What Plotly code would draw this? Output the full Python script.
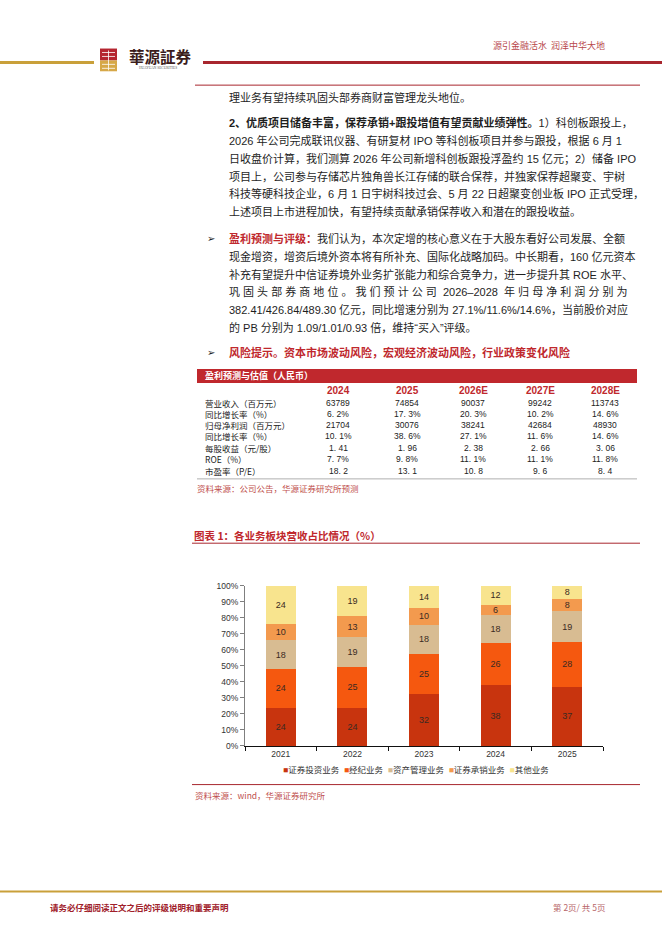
import plotly.graph_objects as go

W, H = 662, 936

# ---------------- data ----------------
years = ["2021", "2022", "2023", "2024", "2025"]
seg_names = ["证券投资业务", "经纪业务", "资产管理业务", "证券承销业务", "其他业务"]
sec_invest = [24, 24, 32, 38, 37]
brokerage = [24, 25, 25, 26, 28]
asset_mgmt = [18, 19, 18, 18, 19]
underwriting = [10, 13, 10, 6, 8]
other = [24, 19, 14, 12, 8]
seg_colors = ["#C8340E", "#F5580F", "#D8BC92", "#F39A4E", "#F8E48E"]
y_ticks = [0, 10, 20, 30, 40, 50, 60, 70, 80, 90, 100]
y_tick_labels = ["0%", "10%", "20%", "30%", "40%", "50%", "60%", "70%", "80%", "90%", "100%"]

table_cols = ["2024", "2025", "2026E", "2027E", "2028E"]
table_rows = ["营业收入（百万元）", "同比增长率（%）", "归母净利润（百万元）", "同比增长率（%）",
              "每股收益（元/股）", "ROE（%）", "市盈率（P/E）"]
revenue = ["63789", "74854", "90037", "99242", "113743"]
revenue_yoy = ["6. 2%", "17. 3%", "20. 3%", "10. 2%", "14. 6%"]
net_profit = ["21704", "30076", "38241", "42684", "48930"]
profit_yoy = ["10. 1%", "38. 6%", "27. 1%", "11. 6%", "14. 6%"]
eps = ["1. 41", "1. 96", "2. 38", "2. 66", "3. 06"]
roe = ["7. 7%", "9. 8%", "11. 1%", "11. 1%", "11. 8%"]
pe = ["18. 2", "13. 1", "10. 8", "9. 6", "8. 4"]

RED = "#C0282D"
BODY = "#1e1e1e"
SANS = "Liberation Sans, Noto Sans CJK SC"
CJK = "Noto Sans CJK SC"

body_lines = [
    "理业务有望持续巩固头部券商财富管理龙头地位。",
    "<b>2、优质项目储备丰富，保荐承销+跟投增值有望贡献业绩弹性。</b>1）科创板跟投上，",
    "2026 年公司完成联讯仪器、有研复材 IPO 等科创板项目并参与跟投，根据 6 月 1",
    "日收盘价计算，我们测算 2026 年公司新增科创板跟投浮盈约 15 亿元；2）储备 IPO",
    "项目上，公司参与存储芯片独角兽长江存储的联合保荐，并独家保荐超聚变、宇树",
    "科技等硬科技企业，6 月 1 日宇树科技过会、5 月 22 日超聚变创业板 IPO 正式受理，",
    "上述项目上市进程加快，有望持续贡献承销保荐收入和潜在的跟投收益。",
    "<b><span style='color:" + RED + "'>盈利预测与评级：</span></b>我们认为，本次定增的核心意义在于大股东看好公司发展、全额",
    "现金增资，增资后境外资本将有所补充、国际化战略加码。中长期看，160 亿元资本",
    "补充有望提升中信证券境外业务扩张能力和综合竞争力，进一步提升其 ROE 水平、",
    "巩 固 头 部 券 商 地 位 。 我 们 预 计 公 司  2026–2028  年 归 母 净 利 润 分 别 为",
    "382.41/426.84/489.30 亿元，同比增速分别为 27.1%/11.6%/14.6%，当前股价对应",
    "的 PB 分别为 1.09/1.01/0.93 倍，维持“买入”评级。",
    "<b><span style='color:" + RED + "'>风险提示。资本市场波动风险，宏观经济波动风险，行业政策变化风险</span></b>",
]
body_y = [93, 119, 137, 155, 173, 191, 209, 236, 254, 272, 290, 308, 326, 351]


def px(x):
    return x / W


def py(y):
    return 1 - y / H


fig = go.Figure()

series = [sec_invest, brokerage, asset_mgmt, underwriting, other]
for name, vals, col in zip(seg_names, series, seg_colors):
    fig.add_trace(go.Bar(
        x=years, y=vals, name=name, marker=dict(color=col, line=dict(width=0)),
        text=[str(v) for v in vals], textposition="inside", insidetextanchor="middle",
        textangle=0, textfont=dict(size=9, color="#3a2a22", family="Liberation Sans"),
        hoverinfo="skip", showlegend=False,
    ))

ann = []
shapes = []


def text(x, y, s, size=10.5, color=BODY, family=SANS, anchor="left"):
    ann.append(dict(x=px(x), y=py(y), xref="paper", yref="paper", text=s, showarrow=False,
                    xanchor=anchor, yanchor="middle", font=dict(size=size, color=color, family=family)))


def hline(x0, x1, y, color, width=1):
    shapes.append(dict(type="line", xref="paper", yref="paper", x0=px(x0), x1=px(x1),
                       y0=py(y), y1=py(y), line=dict(color=color, width=width)))


def rect(x0, x1, y0, y1, fill, lw=0, lc=None):
    shapes.append(dict(type="rect", xref="paper", yref="paper", x0=px(x0), x1=px(x1),
                       y0=py(y1), y1=py(y0), fillcolor=fill, line=dict(width=lw, color=lc or fill)))


# ---------------- header ----------------
hline(0, 94, 58, "#C9A03A", 3)
hline(203, 662, 58, "#A8262E", 3)
rect(100, 117, 44, 56, "#B52530")
rect(100, 117, 56, 67, "#D6A848")
for yy in [48, 52, 60, 64]:
    hline(102, 115, yy, "#FFFFFF", 0.8)
shapes.append(dict(type="line", xref="paper", yref="paper", x0=px(108.5), x1=px(108.5),
                   y0=py(46), y1=py(66), line=dict(color="#FFFFFF", width=0.8)))
text(127, 52, "<b>華源証券</b>", size=15.5, color="#3b1c1c", family="Noto Sans CJK TC")
text(137, 64, "HUAYUAN SECURITIES", size=3.5, color="#555555", family="Liberation Serif")
text(491, 41, "源引金融活水  润泽中华大地", size=9, color="#B8474A", family=CJK)
hline(195, 640, 81, "#A8262E", 1)

# ---------------- body text ----------------
for s, y in zip(body_lines, body_y):
    text(227, y, s, size=11)
text(205, 236, "➢", size=10, color=BODY, family="DejaVu Sans")
text(205, 351, "➢", size=10, color=BODY, family="DejaVu Sans")

# ---------------- table ----------------
rect(197, 637, 368, 382, RED)
text(203, 375, "<b>盈利预测与估值（人民币）</b>", size=9, color="#FFFFFF", family=CJK)
col_x = [338, 407, 473, 540, 605]
for c, x in zip(table_cols, col_x):
    text(x, 390, "<b>" + c + "</b>", size=10, color=RED, family="Liberation Sans Narrow, Liberation Sans", anchor="center")
row_y = [402, 413, 425, 436, 448, 459, 471]
row_vals = [revenue, revenue_yoy, net_profit, profit_yoy, eps, roe, pe]
for lab, y, vals in zip(table_rows, row_y, row_vals):
    text(203, y, lab, size=8.5, color="#222222", family=CJK)
    for v, x in zip(vals, col_x):
        text(x, y, v, size=8.5, color="#222222", family="Liberation Sans", anchor="center")
hline(197, 637, 479, "#9a9a9a", 0.8)
text(195, 488, "资料来源：公司公告，华源证券研究所预测", size=8.5, color="#C0504D", family=CJK)

# ---------------- chart title ----------------
text(192, 536, "<b>图表 1：各业务板块营收占比情况（%）</b>", size=10.5, color=RED, family=CJK)
hline(192, 640, 544, "#A8262E", 1)

# legend (manual)
leg = "\u00a0\u00a0".join(
    "<span style='color:" + c + "'>■</span>" + n for n, c in zip(seg_names, seg_colors))
text(416, 773, leg, size=8.5, color="#333333", family=SANS, anchor="center")

hline(192, 640, 788, "#A8262E", 1)
text(193, 799, "资料来源：wind，华源证券研究所", size=8.5, color="#C0504D", family=CJK)

# ---------------- footer ----------------
hline(0, 662, 896, "#C9A03A", 2)
text(48, 912, "<b>请务必仔细阅读正文之后的评级说明和重要声明</b>", size=8.5, color="#A0202A", family=CJK)
text(551, 912, "第 2页/ 共 5页", size=8.5, color="#B8676A", family=CJK)

fig.update_layout(
    width=W, height=H, margin=dict(l=0, r=0, t=0, b=0),
    paper_bgcolor="white", plot_bgcolor="white",
    barmode="stack", barnorm="percent", bargap=0.58,
    uniformtext=dict(minsize=9, mode="show"),
    showlegend=False,
    annotations=ann, shapes=shapes,
    xaxis=dict(domain=[px(245), px(603)], type="category", showline=True, linecolor="#111111",
               linewidth=1.2, ticks="outside", tickson="boundaries", ticklen=4, tickcolor="#111111",
               tickfont=dict(size=8.5, color="#333333", family="Liberation Sans"), showgrid=False),
    yaxis=dict(domain=[py(749), py(587)], range=[0, 100], tickmode="array", tickvals=y_ticks,
               ticktext=y_tick_labels,
               showline=True, linecolor="#7f7f7f", linewidth=1, ticks="outside", ticklen=4,
               tickcolor="#7f7f7f", showgrid=False, zeroline=False,
               tickfont=dict(size=8.5, color="#333333", family="Liberation Sans")),
    font=dict(family=SANS),
)

fig.write_html("out.html", config={"displayModeBar": False},
               post_script="document.body.style.margin='0';document.body.style.padding='0';")
